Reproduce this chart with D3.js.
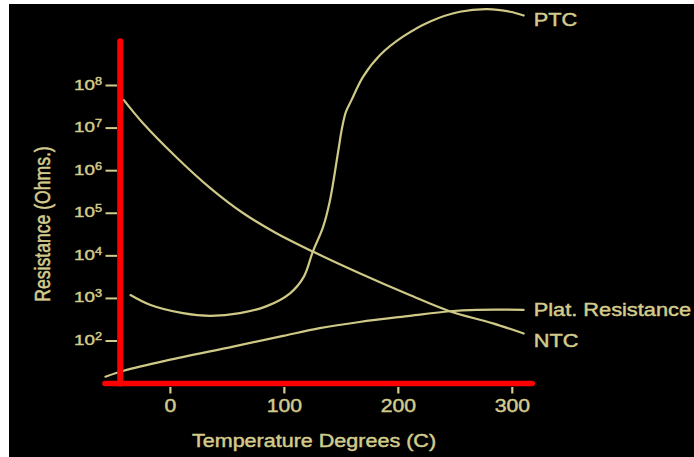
<!DOCTYPE html>
<html>
<head>
<meta charset="utf-8">
<script src="https://cdn.jsdelivr.net/npm/d3@7"></script>
<style>
  html, body { margin: 0; padding: 0; background: #ffffff; }
  svg { display: block; }
  text { font-family: "Liberation Sans", Arial, Helvetica, sans-serif; fill: #d3cb8c; stroke: #d3cb8c; stroke-width: 0.45px; }
</style>
</head>
<body>
<svg id="chart" width="694" height="457"></svg>
<script>
// Temperature (°C) / resistance (ohms) readings for three sensor types
const ntcTemp  = [-41, -24, 5, 35, 64, 93, 125, 166, 210, 245, 283, 310];
const ntcOhms  = [4.6e7, 1.3e7, 2.1e6, 3.9e5, 1.0e5, 3.4e4, 1.26e4, 3900, 1200, 500, 260, 150];

const platTemp = [-57, -41, -3, 55, 99, 131, 166, 210, 245, 269, 310];
const platOhms = [14.5, 20, 35, 74, 132, 200, 280, 390, 500, 540, 540];

const ptcTemp  = [-35, -18, 11, 35, 61, 84, 105, 117, 125, 134, 140, 147, 150.6, 154, 159, 169, 184, 204, 228, 254, 278, 298, 310];
const ptcOhms  = [1200, 710, 450, 390, 450, 650, 1320, 3200, 1.26e4, 4.8e4, 2.0e5, 2.6e6, 1.0e7, 2.4e7, 4.6e7, 1.6e8, 5.2e8, 1.4e9, 3.2e9, 5.4e9, 6.2e9, 5.4e9, 4.4e9];

const seriesNames = ["PTC", "Plat. Resistance", "NTC"];
const xTicks = [0, 100, 200, 300];
const yTickExponents = [2, 3, 4, 5, 6, 7, 8];

// Extents of the highlighted axis lines, in data units
const axisTempRange = [-57.4, 317.5];
const axisOhmsTop = 1.1e9;
const axisOhmsBase = 10;
const axisTempAt = -44;

const stretch = 1.21; // horizontal stretch of all lettering
const ink = "#d3cb8c";
const lineInk = "#cfc987";
const red = "#ff0000";

const svg = d3.select("#chart");

// black plate
svg.append("rect").attr("x", 9).attr("y", 4).attr("width", 685).attr("height", 453).attr("fill", "#000");

const x = d3.scaleLinear().domain([0, 300]).range([170.4, 512.3]);
const y = d3.scaleLog().domain([1e1, 1e8]).range([383.6, 85.5]);

const line = d3.line()
  .x(d => x(d[0]))
  .y(d => y(d[1]))
  .curve(d3.curveCatmullRom.alpha(0.5));

const series = [
  { name: seriesNames[0], pts: d3.zip(ptcTemp, ptcOhms), dy: 10 },
  { name: seriesNames[1], pts: d3.zip(platTemp, platOhms), dy: 6.3 },
  { name: seriesNames[2], pts: d3.zip(ntcTemp, ntcOhms), dy: 13.5 }
];

svg.append("g").selectAll("path")
  .data(series)
  .join("path")
  .attr("d", d => line(d.pts))
  .attr("fill", "none")
  .attr("stroke", lineInk)
  .attr("stroke-width", 2.2)
  .attr("stroke-linecap", "round");

// series labels at the right end of each curve
svg.append("g").selectAll("text")
  .data(series)
  .join("text")
  .attr("transform", d => {
    const last = d.pts[d.pts.length - 1];
    return `translate(${x(last[0]) + 10},${y(last[1]) + d.dy}) scale(${stretch},1)`;
  })
  .attr("font-size", 18)
  .text(d => d.name);

// y ticks: decades of resistance
const yAxis = svg.append("g");
yTickExponents.forEach(e => {
  const v = Math.pow(10, e);
  yAxis.append("line")
    .attr("x1", 105.5).attr("x2", 117)
    .attr("y1", y(v)).attr("y2", y(v))
    .attr("stroke", ink).attr("stroke-width", 2);
  const t = yAxis.append("text")
    .attr("transform", `translate(102,${y(v) + 4}) scale(${stretch},1)`)
    .attr("text-anchor", "end")
    .attr("font-size", 15.5);
  t.append("tspan").text("10");
  t.append("tspan").attr("dy", -5).attr("font-size", 10.5).text(String(e));
});

// x ticks: temperature
const xAxis = svg.append("g");
xTicks.forEach(v => {
  xAxis.append("line")
    .attr("x1", x(v)).attr("x2", x(v))
    .attr("y1", 387).attr("y2", 393.5)
    .attr("stroke", ink).attr("stroke-width", 2.2);
  xAxis.append("text")
    .attr("transform", `translate(${x(v)},${411.5}) scale(${stretch},1)`)
    .attr("text-anchor", "middle")
    .attr("font-size", 17.5)
    .text(v);
});

// axis titles
svg.append("text")
  .attr("transform", `translate(314,447) scale(${stretch},1)`)
  .attr("text-anchor", "middle")
  .attr("font-size", 17.8)
  .text("Temperature Degrees (C)");

svg.append("text")
  .attr("transform", `translate(50,224) rotate(-90) scale(1,${stretch})`)
  .attr("text-anchor", "middle")
  .attr("font-size", 17.6)
  .text("Resistance (Ohms.)");

// highlighted axes
svg.append("line")
  .attr("x1", x(axisTempAt)).attr("x2", x(axisTempAt))
  .attr("y1", y(axisOhmsTop)).attr("y2", y(axisOhmsBase))
  .attr("stroke", red).attr("stroke-width", 6).attr("stroke-linecap", "round");
svg.append("line")
  .attr("x1", x(axisTempRange[0])).attr("x2", x(axisTempRange[1]))
  .attr("y1", y(axisOhmsBase)).attr("y2", y(axisOhmsBase))
  .attr("stroke", red).attr("stroke-width", 5.5).attr("stroke-linecap", "round");
</script>
</body>
</html>
